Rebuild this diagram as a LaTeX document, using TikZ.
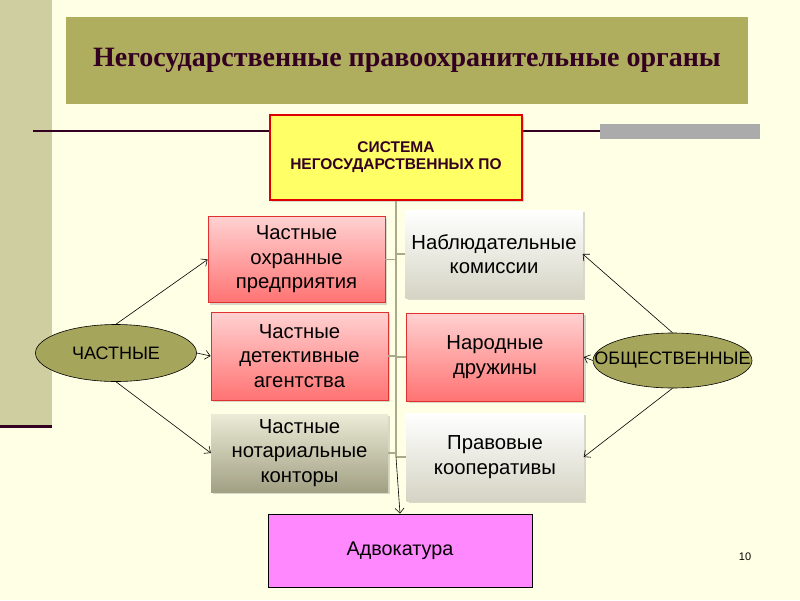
\documentclass[tikz,border=0pt]{standalone}
\usepackage{fontspec}
\setmainfont{Liberation Sans}
\newfontfamily\titlefont{Liberation Serif}
\usepackage{tikz}
\usetikzlibrary{arrows.meta,shapes.geometric,shadows}
\definecolor{slidebg}{RGB}{255,255,230}
\definecolor{bandtan}{RGB}{207,206,160}
\definecolor{titleolive}{RGB}{175,174,94}
\definecolor{darkplum}{RGB}{51,0,34}
\definecolor{trunkgray}{RGB}{170,169,138}
\definecolor{ovalolive}{RGB}{166,165,92}
\definecolor{boxred}{RGB}{224,48,48}
\definecolor{sysred}{RGB}{224,0,0}
\definecolor{sysyellow}{RGB}{255,255,102}
\definecolor{advpink}{RGB}{255,136,255}
\newcommand{\bxW}{177}
\newcommand{\bxH}{86}
\tikzset{
  boxtxt/.style  ={align=center,font=\fontsize{20.3}{24.5}\selectfont,inner sep=0pt},
  orgbox/.style  ={boxtxt,minimum width=\bxW,minimum height=\bxH,
                   drop shadow={opacity=0.3,shadow xshift=2pt,shadow yshift=-2pt}},
  redbox/.style  ={orgbox,draw=boxred,line width=0.8pt,top color=red!18,bottom color=red!55},
  greybox/.style ={orgbox,top color=white,bottom color=trunkgray!50},
  olivebox/.style={orgbox,top color=titleolive!25,bottom color=trunkgray!95!black},
  oval/.style    ={ellipse,draw=black,line width=0.6pt,fill=ovalolive,inner sep=0pt,
                   font=\fontsize{18}{20}\selectfont},
  trunk/.style   ={trunkgray,line width=2.6pt},
  tick/.style    ={trunkgray,line width=1.8pt},
  ptr/.style     ={black,line width=0.6pt,-{Straight Barb[length=5pt,width=9pt]}},
}
\begin{document}
\begin{tikzpicture}[x=1pt,y=-1pt]
  \useasboundingbox (0,0) rectangle (800,600);
  \fill[slidebg] (0,0) rectangle (800,600);
  % slide decoration
  \fill[bandtan] (0,0) rectangle (52,425);
  \draw[darkplum,line width=3pt] (0,426) -- (52,426);
  \draw[darkplum,line width=2.6pt] (33,131) -- (600,131);
  \fill[black!33] (600,124) rectangle (760,139);
  \node[fill=titleolive,minimum width=682,minimum height=87,inner sep=0pt,
        text=darkplum,font=\titlefont\bfseries\fontsize{28}{32}\selectfont] (title) at (407,60.5)
        {Негосударственные правоохранительные органы};

  \node[draw=sysred,line width=1.6pt,fill=sysyellow,minimum width=252,minimum height=85,
        align=center,text=darkplum,font=\bfseries\fontsize{15.5}{17}\selectfont,inner sep=0pt,
        drop shadow={opacity=0.3,shadow xshift=2pt,shadow yshift=-2pt}] (sys) at (396,157.5)
        {СИСТЕМА\\НЕГОСУДАРСТВЕННЫХ ПО};

  \node[redbox] (ohr) at (296.5,259.5) {Частные\\охранные\\предприятия};
  \node[redbox,minimum height=88] (det) at (299.5,356) {Частные\\детективные\\агентства};
  \node[olivebox,minimum height=78] (not) at (299.5,453) {Частные\\нотариальные\\конторы};
  \node[greybox,minimum height=88] (nab) at (494,254) {Наблюдательные\\комиссии};
  \node[redbox,minimum height=88] (nar) at (495,357) {Народные\\дружины};
  \node[greybox,minimum height=88] (prav) at (495,457) {Правовые\\кооперативы};

  \node[draw=black,line width=0.8pt,fill=advpink,minimum width=264,minimum height=73,
        boxtxt,font=\fontsize{19.8}{24}\selectfont] (adv) at (400,550.5) {Адвокатура};

  \node[oval,minimum width=161,minimum height=57] (priv) at (116,353) {\makebox[0pt]{ЧАСТНЫЕ}};
  \node[oval,minimum width=159,minimum height=55] (pub) at (672.5,360.5) {\makebox[0pt]{ОБЩЕСТВЕННЫЕ}};

  \node[font=\fontsize{11}{13}\selectfont] (pnum) at (745,557) {10};

  % trunk and branches
  \coordinate (tb) at (396,457);
  \draw[trunk] (sys.south) -- (tb);
  \foreach \b in {ohr,det,not}
    \draw[tick] (\b.east) -- (\b.east -| sys.south);
  \foreach \b in {nab,nar,prav}
    \draw[tick] (\b.west) -- (\b.west -| sys.south);
  \draw[ptr] (tb) -- (adv.north);

  \draw[ptr] (priv.north) -- (ohr.west);
  \draw[ptr] (priv.east) -- (det.west);
  \draw[ptr] (priv.south) -- (not.west);
  \draw[ptr] (pub.north) -- (nab.east);
  \draw[ptr] (pub.west) -- (nar.east);
  \draw[ptr] (pub.south) -- (prav.east);
\end{tikzpicture}
\end{document}
